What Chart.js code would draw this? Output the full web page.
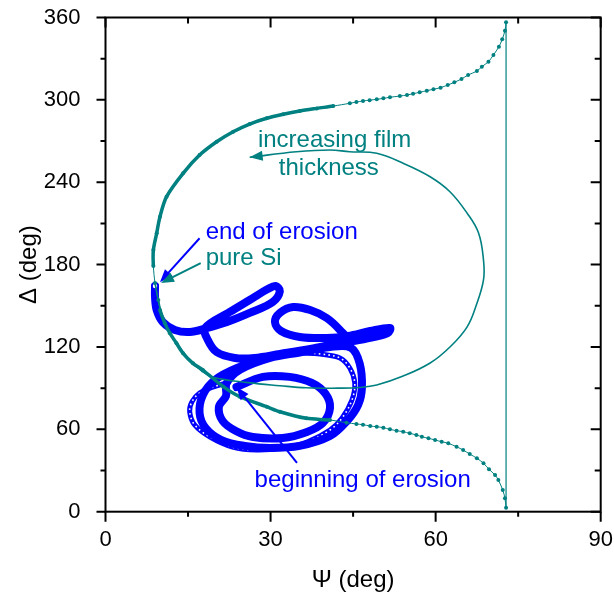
<!DOCTYPE html>
<html>
<head>
<meta charset="utf-8">
<script src="https://cdn.jsdelivr.net/npm/chart.js@4.4.0/dist/chart.umd.min.js"></script>
<style>
  html, body { margin: 0; padding: 0; background: #fff; }
  canvas { display: block; }
</style>
</head>
<body>
<canvas id="myChart" width="614" height="601"></canvas>
<script>
// axis ticks
var psiTicks = [0, 30, 60, 90];
var psiMinor = [15, 45, 75];
var deltaTicks = [0, 60, 120, 180, 240, 300, 360];
var deltaMinor = [30, 90, 150, 210, 270, 330];

// pure Si curve (dotted), top branch then bottom branch
var siPsi = [72.8, 72.6, 72.1, 71.5, 70.5, 69.6, 68.4, 67.5, 65.9, 64.7, 63.4, 62.2, 60.9, 59.6, 58.4, 57.1,
    55.9, 54.8, 53.5, 51.7, 50.5, 49.3, 48.0, 46.8, 45.6, 44.4, 41.4, 38.4, 35.3, 32.3, 29.3, 26.2, 23.2, 20.2,
    17.1, 14.1, 11.1, 9.9, 9.3, 8.7, 8.7, 9.0, 9.6, 9.9, 10.8, 11.7, 12.9, 14.1, 15.9, 17.7, 21.4, 24.4, 29.3,
    31.7, 36.5, 40.8, 43.8, 45.6, 46.8, 48.1, 49.3, 50.5, 51.7, 52.9, 54.1, 55.3, 56.5, 57.5, 58.7, 59.9, 61.1,
    62.3, 63.8, 65.0, 66.2, 67.5, 68.7, 69.7, 70.8, 71.4, 72.2, 72.6, 72.8];
var siDelta = [356.5, 350.4, 344.1, 338.7, 332.7, 327.8, 324.2, 321.0, 318.1, 315.2, 312.8, 310.8, 308.9, 307.7,
    306.7, 305.5, 304.5, 303.5, 302.8, 301.9, 301.1, 300.4, 299.8, 299.2, 298.4, 297.5, 295.5, 293.8, 291.9, 289.5,
    286.6, 282.4, 276.8, 269.5, 259.8, 246.5, 229.5, 214.9, 202.8, 190.6, 179.0, 166.6, 154.2, 146.9, 137.2, 130.0,
    122.7, 115.4, 108.1, 103.2, 91.1, 83.8, 76.5, 72.8, 68.0, 66.8, 64.8, 63.9, 63.4, 62.4, 61.9, 61.2, 60.0, 59.0,
    58.3, 57.1, 55.9, 54.6, 53.5, 52.2, 51.0, 49.8, 47.3, 44.9, 42.0, 38.9, 35.3, 30.9, 26.7, 23.1, 15.8, 9.8, 2.9];

// increasing film thickness loop
var filmPsi = [9.0, 9.6, 10.8, 12.9, 15.3, 17.5, 19.5, 26.0, 31.7, 36.5, 42.6, 46.2, 49.3, 54.1, 59.0, 62.6, 65.7,
    67.4, 68.7, 68.7, 67.8, 65.7, 62.6, 59.0, 54.1, 49.3, 44.4, 40.8, 34.7, 26.2];
var filmDelta = [166.6, 154.2, 137.2, 122.7, 110.5, 102.5, 98.0, 94.0, 91.8, 90.3, 90.0, 90.5, 92.3, 98.8, 108.3,
    120.0, 134.5, 150.6, 168.8, 183.3, 203.0, 217.6, 233.1, 244.0, 253.8, 261.1, 262.2, 263.5, 262.2, 258.2];

// erosion track (dense part): inner ring, outer ring, right loop, spike, band, left loop
var erosionPsi = [23.8, 28.6, 33.5, 37.5, 40.0, 40.8, 39.5, 36.6, 32.2, 26.8, 23.7, 21.3, 20.6, 21.9, 22.0,
    24.5, 29.9, 35.3, 40.8, 44.6,
    46.2, 46.6, 45.9, 43.9, 40.8, 35.3, 29.9, 25.3, 21.1, 18.2, 17.1, 17.7, 19.9, 23.9, 29.9, 35.3, 40.8, 44.4,
    42.6, 40.2, 37.2, 34.1, 31.7, 30.8, 31.9, 35.3, 40.2, 44.1,
    48.1, 51.7, 51.3, 47.1,
    42.6, 37.2, 31.7, 27.1, 23.5, 20.2, 18.6, 18.1,
    22.6, 26.2, 29.5, 30.9, 31.7, 30.4, 26.2, 22.1, 18.4, 15.3, 12.6, 10.4, 9.3, 9.0, 9.0];
var erosionDelta = [90.8, 98.2, 98.2, 93.8, 85.8, 75.5, 64.6, 58.1, 53.7, 54.4, 58.8, 66.1, 76.3, 84.3, 93.5,
    103.5, 112.0, 116.0, 120.0, 119.5,
    108.0, 90.1, 77.7, 66.1, 55.1, 47.9, 46.4, 47.9, 52.2, 61.0, 71.9, 85.0, 96.0, 104.7, 112.7, 116.3, 120.5, 122.9,
    132.4, 141.1, 146.9, 149.1, 144.8, 138.2, 131.6, 127.3, 126.5, 128.0,
    131.6, 133.8, 130.2, 125.8,
    122.9, 118.5, 114.9, 112.0, 112.0, 116.3, 125.1, 133.8,
    145.5, 154.2, 162.2, 164.4, 160.8, 152.8, 144.8, 138.2, 133.8, 130.9, 132.4, 138.2, 146.9, 156.4, 164.4];

// erosion track (sparse open circles ring)
var ringPsi = [22.1, 19.5, 17.1, 15.7, 15.3, 16.2, 19.0, 23.1, 27.5, 32.2, 36.6, 40.8, 43.0, 44.8, 45.3, 44.4,
    42.6, 39.0, 35.3];
var ringDelta = [93.8, 90.8, 86.5, 80.0, 72.7, 63.2, 54.4, 47.1, 44.9, 46.4, 50.8, 59.5, 68.3, 81.4, 93.8, 104.7,
    112.0, 114.9, 115.6];

var TEAL = '#008080';
var BLUE = '#0000ff';
var FONT = '"Liberation Sans", Arial, sans-serif';

// annotations
var arrows = [
    { from: [17.1, 199.2], to: [9.9, 167.2], color: BLUE },
    { from: [17.3, 181.0], to: [10.1, 166.6], color: TEAL },
    { from: [34.8, 35.5], to: [23.8, 90.8], color: BLUE }
];
var labels = [
    { text: 'increasing film', at: [27.7, 265.7], color: TEAL },
    { text: 'thickness', at: [31.5, 245.3], color: TEAL },
    { text: 'end of erosion', at: [18.2, 198.6], color: BLUE },
    { text: 'pure Si', at: [18.2, 179.7], color: TEAL },
    { text: 'beginning of erosion', at: [27.1, 18.0], color: BLUE }
];

function pts(xs, ys) {
    return xs.map(function (x, i) { return { x: x, y: ys[i] }; });
}

function veMuiTen(ctx, x1, y1, x2, y2, color, len, w, line) {
    var ang = Math.atan2(y2 - y1, x2 - x1);
    var c = Math.cos(ang), s = Math.sin(ang);
    ctx.strokeStyle = color;
    ctx.fillStyle = color;
    if (line) {
        ctx.lineWidth = 2;
        ctx.beginPath();
        ctx.moveTo(x1, y1);
        ctx.lineTo(x2 - c * len * 0.7, y2 - s * len * 0.7);
        ctx.stroke();
    }
    ctx.beginPath();
    ctx.moveTo(x2, y2);
    ctx.lineTo(x2 - c * len + s * w / 2, y2 - s * len - c * w / 2);
    ctx.lineTo(x2 - c * len - s * w / 2, y2 - s * len + c * w / 2);
    ctx.closePath();
    ctx.fill();
}

var khung = {
    id: 'khung',
    afterDatasetsDraw: function (chart) {
        var ctx = chart.ctx;
        var sx = chart.scales.x, sy = chart.scales.y;
        var a = chart.chartArea;
        ctx.save();
        // arrows
        arrows.forEach(function (ar) {
            veMuiTen(ctx, sx.getPixelForValue(ar.from[0]), sy.getPixelForValue(ar.from[1]),
                sx.getPixelForValue(ar.to[0]), sy.getPixelForValue(ar.to[1]), ar.color, 13, 10, true);
        });
        // arrow head at the end of the film loop
        var n = filmPsi.length;
        veMuiTen(ctx, sx.getPixelForValue(filmPsi[n - 2]), sy.getPixelForValue(filmDelta[n - 2]),
            sx.getPixelForValue(filmPsi[n - 1]), sy.getPixelForValue(filmDelta[n - 1]), TEAL, 13, 10, false);
        // labels
        ctx.font = '24px ' + FONT;
        ctx.textAlign = 'left';
        ctx.textBaseline = 'alphabetic';
        labels.forEach(function (lb) {
            ctx.fillStyle = lb.color;
            ctx.fillText(lb.text, sx.getPixelForValue(lb.at[0]), sy.getPixelForValue(lb.at[1]));
        });
        // frame
        ctx.strokeStyle = '#000';
        ctx.lineWidth = 2;
        ctx.strokeRect(a.left, a.top, a.right - a.left, a.bottom - a.top);
        ctx.beginPath();
        psiTicks.forEach(function (v) {
            var x = sx.getPixelForValue(v);
            ctx.moveTo(x, a.bottom); ctx.lineTo(x, a.bottom + 10);
            ctx.moveTo(x, a.top); ctx.lineTo(x, a.top + 10);
        });
        psiMinor.forEach(function (v) {
            var x = sx.getPixelForValue(v);
            ctx.moveTo(x, a.bottom); ctx.lineTo(x, a.bottom + 5);
            ctx.moveTo(x, a.top); ctx.lineTo(x, a.top + 6);
        });
        deltaTicks.forEach(function (v) {
            var y = sy.getPixelForValue(v);
            ctx.moveTo(a.left, y); ctx.lineTo(a.left - 9, y);
            ctx.moveTo(a.right, y); ctx.lineTo(a.right - 10, y);
        });
        deltaMinor.forEach(function (v) {
            var y = sy.getPixelForValue(v);
            ctx.moveTo(a.left, y); ctx.lineTo(a.left - 5, y);
            ctx.moveTo(a.right, y); ctx.lineTo(a.right - 6, y);
        });
        ctx.stroke();
        ctx.restore();
    }
};

var bieudo = new Chart('myChart', {
    type: 'scatter',
    data: {
        datasets: [{
            // pure Si curve
            data: pts(siPsi, siDelta),
            showLine: true,
            borderColor: TEAL,
            backgroundColor: TEAL,
            borderWidth: 1,
            pointRadius: 2,
            pointBorderWidth: 0,
            tension: 0.3,
            segment: {
                borderWidth: function (c) {
                    var thick = c.p0.parsed.x < 43 && c.p1.parsed.x < 43 &&
                        !(c.p0.parsed.y > 150 && c.p0.parsed.y < 185);
                    return thick ? 3.5 : 1;
                }
            }
        }, {
            // vertical line closing the Si curve
            data: pts([siPsi[0], siPsi[siPsi.length - 1]], [siDelta[0], siDelta[siDelta.length - 1]]),
            showLine: true,
            borderColor: TEAL,
            borderWidth: 1.2,
            pointRadius: 0
        }, {
            // film thickness loop
            data: pts(filmPsi, filmDelta),
            showLine: true,
            borderColor: TEAL,
            borderWidth: 1.6,
            pointRadius: 0,
            tension: 0.4
        }, {
            // end of erosion marker
            data: pts([erosionPsi[erosionPsi.length - 1]], [erosionDelta[erosionDelta.length - 1]]),
            pointRadius: 3,
            pointBorderWidth: 1.5,
            borderColor: BLUE,
            backgroundColor: '#fff'
        }, {
            // erosion track, dense
            data: pts(erosionPsi, erosionDelta),
            showLine: true,
            borderColor: BLUE,
            borderWidth: 8,
            borderCapStyle: 'round',
            borderJoinStyle: 'round',
            pointRadius: 0,
            tension: 0.35
        }, {
            // open circles (white holes)
            data: pts(ringPsi, ringDelta),
            showLine: true,
            borderColor: '#fff',
            borderWidth: 1.6,
            borderDash: [1.6, 3.2],
            pointRadius: 0,
            tension: 0.35
        }, {
            // open circles ring
            data: pts(ringPsi, ringDelta),
            showLine: true,
            borderColor: BLUE,
            borderWidth: 5,
            pointRadius: 0,
            tension: 0.35
        }]
    },
    options: {
        responsive: false,
        animation: false,
        devicePixelRatio: 1,
        layout: { padding: { top: 17.5, right: 13.3, left: 0, bottom: 0 } },
        plugins: { legend: { display: false }, tooltip: { enabled: false } },
        scales: {
            x: {
                type: 'linear',
                min: 0,
                max: 90,
                afterBuildTicks: function (s) { s.ticks = psiTicks.map(function (v) { return { value: v }; }); },
                afterFit: function (s) {
                    s.height = 89.3;
                    s.paddingLeft = 0;
                    s.paddingRight = 0;
                },
                grid: { display: false, drawTicks: false },
                border: { display: false },
                ticks: { color: '#000', font: { size: 22, family: FONT }, padding: 15, maxRotation: 0 },
                title: { display: true, text: 'Ψ (deg)', color: '#000', font: { size: 24, family: FONT },
                    padding: { top: 0, bottom: 6 } }
            },
            y: {
                type: 'linear',
                min: 0,
                max: 360,
                afterBuildTicks: function (s) { s.ticks = deltaTicks.map(function (v) { return { value: v }; }); },
                afterFit: function (s) {
                    s.width = 105.5;
                    s.paddingTop = 0;
                    s.paddingBottom = 0;
                },
                grid: { display: false, drawTicks: false },
                border: { display: false },
                ticks: { color: '#000', font: { size: 22, family: FONT }, padding: 25 },
                title: { display: true, text: 'Δ (deg)', color: '#000', font: { size: 24, family: FONT },
                    padding: { top: 15, bottom: 0 } }
            }
        }
    },
    plugins: [khung]
});
</script>
</body>
</html>
